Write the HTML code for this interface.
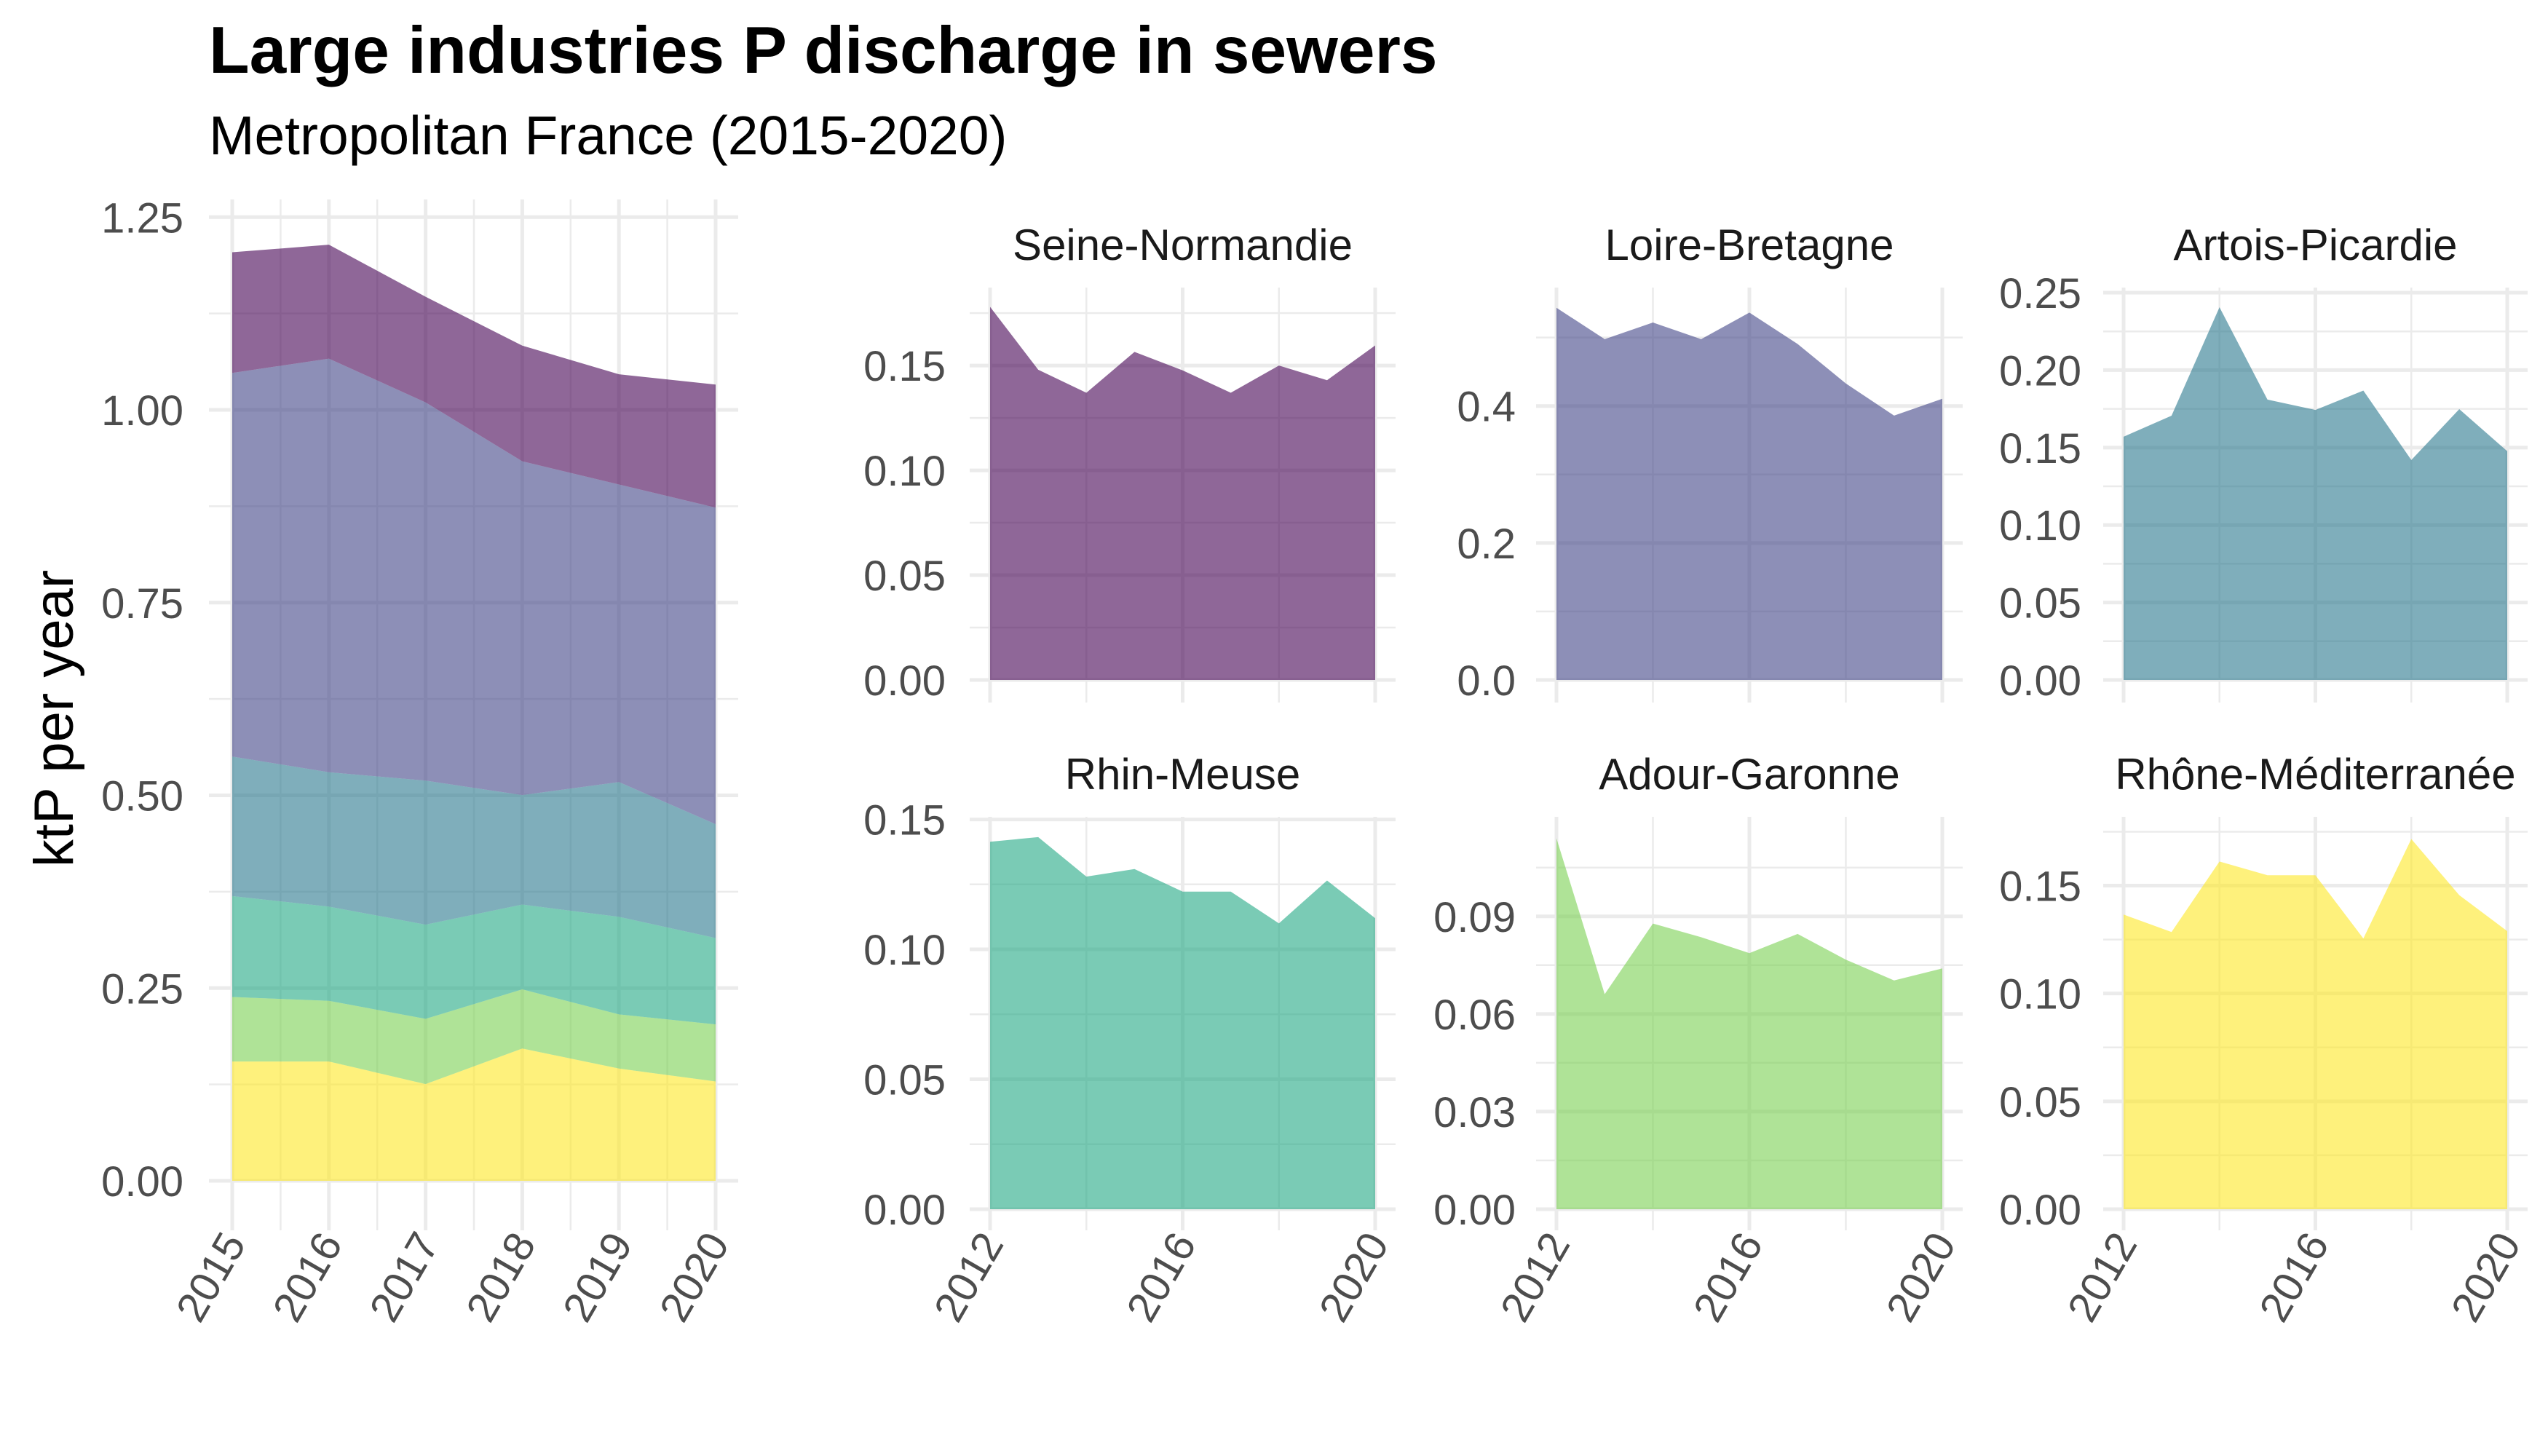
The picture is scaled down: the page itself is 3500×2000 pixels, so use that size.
<!DOCTYPE html>
<html><head><meta charset="utf-8"><style>
html,body{margin:0;padding:0;background:#fff;overflow:hidden}
svg{display:block;font-family:"Liberation Sans",sans-serif}
</style></head><body>
<svg id="chart" width="3500" height="2000" viewBox="0 0 3500 2000" xmlns="http://www.w3.org/2000/svg">
<text x="287" y="100" font-size="91" font-weight="bold" fill="#000">Large industries P discharge in sewers</text>
<text x="287" y="212" font-size="75" fill="#000">Metropolitan France (2015-2020)</text>
<text transform="translate(100,987) rotate(-90)" text-anchor="middle" font-size="76" fill="#000">ktP per year</text>
<g id="g"></g>
</svg>
<script>
const years = [2012,2013,2014,2015,2016,2017,2018,2019,2020];
const basins = ["Seine-Normandie","Loire-Bretagne","Artois-Picardie","Rhin-Meuse","Adour-Garonne","Rhône-Méditerranée"];
const seine = [0.178,0.148,0.137,0.1565,0.1477,0.137,0.150,0.143,0.1596];
const loire = [0.5435,0.4976,0.522,0.4976,0.5365,0.4906,0.433,0.386,0.4106];
const artois = [0.157,0.1706,0.2406,0.181,0.1743,0.1868,0.142,0.1748,0.1477];
const rhin = [0.1414,0.1432,0.128,0.1309,0.1222,0.1222,0.110,0.1265,0.112];
const adour = [0.114,0.0661,0.0878,0.0836,0.0787,0.0846,0.0767,0.0703,0.074];
const rhone = [0.1366,0.1285,0.1612,0.1548,0.1548,0.1255,0.1716,0.1456,0.1289];
const mainYears = [2015,2016,2017,2018,2019,2020];
const mainTicks = ["0.00","0.25","0.50","0.75","1.00","1.25"];
const colors = ["#440154","#414487","#2A788E","#22A884","#7AD151","#FDE725"];
const series = [seine,loire,artois,rhin,adour,rhone];
const facetTicks = [["0.00","0.05","0.10","0.15"],["0.0","0.2","0.4"],["0.00","0.05","0.10","0.15","0.20","0.25"],["0.00","0.05","0.10","0.15"],["0.00","0.03","0.06","0.09"],["0.00","0.05","0.10","0.15"]];
const facetMinor = [[0.025,0.075,0.125,0.175],[0.1,0.3,0.5],[0.025,0.075,0.125,0.175,0.225],[0.025,0.075,0.125],[0.015,0.045,0.075,0.105],[0.025,0.075,0.125,0.175]];
const facetMax = [0.1872,0.573,0.2533,0.151,0.1206,0.1819];
const xTickYears = ["2012","2016","2020"];

const NS="http://www.w3.org/2000/svg";
const G=document.getElementById('g');
function mk(tag,attrs,parent){const e=document.createElementNS(NS,tag);for(const k in attrs)e.setAttribute(k,attrs[k]);(parent||G).appendChild(e);return e;}
const GRID="#ebebeb", LAB="#4d4d4d", FS=58;

// ---- main stacked chart ----
const mx0=319,mx1=983,my0=1622,mpu=1059;
const mx=y=>mx0+(y-2015)/5*(mx1-mx0);
const my=v=>my0-v*mpu;
const mg=mk('g',{});


const mTop=274,mBot=1690,mL=287,mR=1014;
for(let v=0.125;v<1.27;v+=0.25){const l=mk('line',{x1:mL,x2:mR,y1:my(v),y2:my(v),stroke:GRID,'stroke-width':2.5},mg);}
for(let i=0;i<5;i++){const x=(mx(mainYears[i])+mx(mainYears[i+1]))/2;const l=mk('line',{x1:x,x2:x,y1:mTop,y2:mBot,stroke:GRID,'stroke-width':2.5},mg);}
mainTicks.forEach(t=>{const v=parseFloat(t);const l=mk('line',{x1:mL,x2:mR,y1:my(v),y2:my(v),stroke:GRID,'stroke-width':5},mg);
 const tx=mk('text',{x:252,y:my(v)+21,'text-anchor':'end','font-size':FS,fill:LAB},mg);tx.textContent=t;});
mainYears.forEach(yr=>{const x=mx(yr);const l=mk('line',{x1:x,x2:x,y1:mTop,y2:mBot,stroke:GRID,'stroke-width':5},mg);
 const tx=mk('text',{transform:`translate(${x+20},${mBot+18}) rotate(-60)`,'text-anchor':'end','font-size':FS,fill:LAB},mg);tx.textContent=yr;});
let base=mainYears.map(()=>0);
for(let s=5;s>=0;s--){
 const vals=mainYears.map(yr=>series[s][years.indexOf(yr)]);
 const top=base.map((b,i)=>b+vals[i]);
 let d=mainYears.map((yr,i)=>(i?'L':'M')+mx(yr)+','+my(top[i])).join('');
 for(let i=mainYears.length-1;i>=0;i--)d+='L'+mx(mainYears[i])+','+my(base[i]);
 const p=mk('path',{d:d+'Z',fill:colors[s],'fill-opacity':0.6},mg);
 
 
 base=top;
}

// ---- facets ----
const colX=[[1360,1889,1299],[2138,2668,2082],[2917,3444,2859]];
const rowY=[[395,934,965,337],[1122,1661,1690,1064]];
for(let f=0;f<6;f++){
 const c=colX[f%3], r=rowY[Math.floor(f/3)];
 const x0=c[0],x1=c[1],top=r[0],y0=r[1],bot=r[2];
 const fx=yr=>x0+(yr-2012)/8*(x1-x0);
 const fy=v=>y0-v/facetMax[f]*(y0-top);
 const g=mk('g',{});
 
 
 const L=x0-28,R=x1+28;
 facetMinor[f].forEach(v=>{if(v>facetMax[f])return;const l=mk('line',{x1:L,x2:R,y1:fy(v),y2:fy(v),stroke:GRID,'stroke-width':2.5},g);});
 [2014,2018].forEach(yr=>{const l=mk('line',{x1:fx(yr),x2:fx(yr),y1:top,y2:bot,stroke:GRID,'stroke-width':2.5},g);});
 facetTicks[f].forEach(t=>{const v=parseFloat(t);const l=mk('line',{x1:L,x2:R,y1:fy(v),y2:fy(v),stroke:GRID,'stroke-width':5},g);
  const tx=mk('text',{x:c[2],y:fy(v)+21,'text-anchor':'end','font-size':FS,fill:LAB},g);tx.textContent=t;});
 xTickYears.forEach(t=>{const x=fx(+t);const l=mk('line',{x1:x,x2:x,y1:top,y2:bot,stroke:GRID,'stroke-width':5},g);
  if(f>=3){const tx=mk('text',{transform:`translate(${x+20},${bot+18}) rotate(-60)`,'text-anchor':'end','font-size':FS,fill:LAB},g);tx.textContent=t;}});
 let d=years.map((yr,i)=>(i?'L':'M')+fx(yr)+','+fy(series[f][i])).join('');
 d+='L'+fx(2020)+','+fy(0)+'L'+fx(2012)+','+fy(0)+'Z';
 const p=mk('path',{d:d,fill:colors[f],'fill-opacity':0.6},g);
 
 
 const st=mk('text',{x:(x0+x1)/2,y:r[3]+20,'text-anchor':'middle','font-size':60,fill:'#1a1a1a'},g);
 st.textContent=basins[f];
 
 
}
</script>
</body></html>
